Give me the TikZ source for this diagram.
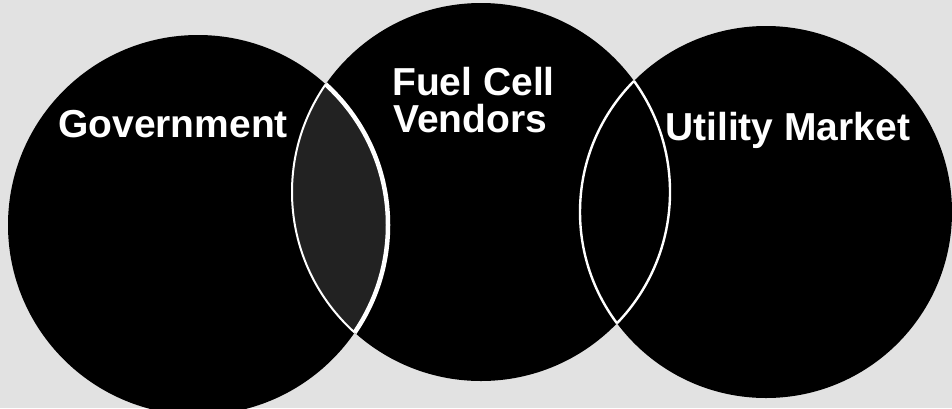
\documentclass[tikz,border=0pt]{standalone}
\usepackage{fontspec}
\setmainfont{Liberation Sans}
\definecolor{bg}{RGB}{226,226,226}
\definecolor{lapgray}{RGB}{34,34,34}
\tikzset{
  lbl/.style={text=white, font=\fontsize{39}{39}\selectfont\bfseries, inner sep=0pt, anchor=base west},
  edge/.style={draw=white, line width=#1},
}
\begin{document}
\begin{tikzpicture}[x=1pt,y=-1pt]
  \useasboundingbox (0,0) rectangle (952,408);
  \fill[bg] (0,0) rectangle (952,408);
  % circles
  \def\ca{(198,225) circle[radius=190]}
  \def\cb{(481,192) circle[radius=189]}
  \def\cc{(766,212) circle[radius=186]}
  \fill[black] \ca;
  \fill[black] \cb;
  \fill[black] \cc;
  % left-middle overlap
  \begin{scope}
    \clip \cb;
    \fill[lapgray] \ca;
    \draw[edge=4.5pt] \ca;
  \end{scope}
  \begin{scope}
    \clip \ca;
    \draw[edge=2pt] \cb;
  \end{scope}
  % middle-right overlap
  \begin{scope}
    \clip \cc;
    \draw[edge=2.4pt] \cb;
  \end{scope}
  \begin{scope}
    \clip \cb;
    \draw[edge=2.4pt] \cc;
  \end{scope}
  % labels
  \node[lbl] (gov) at (58,137) {Government};
  \node[lbl] (fuel) at (392,95) {Fuel Cell};
  \node[lbl] (vend) at (393,132) {Vendors};
  \node[lbl] (util) at (665,140) {Utility Market};
\end{tikzpicture}
\end{document}
